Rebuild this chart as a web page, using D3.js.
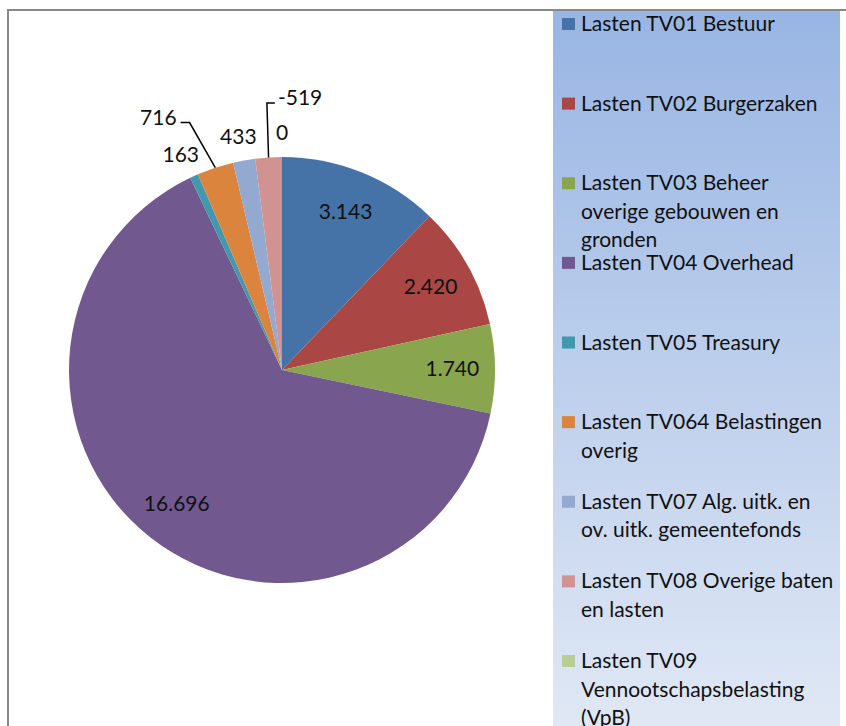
<!DOCTYPE html>
<html lang="nl">
<head>
<meta charset="UTF-8">
<title>Lasten per taakveld</title>
<script src="https://d3js.org/d3.v7.min.js"></script>
<style>
  body, html { margin: 0; padding: 0; overflow: hidden; background: #fff; }
  svg text { font-family: Lato, "Open Sans", sans-serif; fill: #111; }
  .data-label { font-size: 21px; }
  .legend-label { font-size: 21px; }
</style>
</head>
<body>
<svg id="chart" width="846" height="726"></svg>
<script>
  // chart data
  const categories = [
    "Lasten TV01 Bestuur",
    "Lasten TV02 Burgerzaken",
    "Lasten TV03 Beheer\noverige gebouwen en\ngronden",
    "Lasten TV04 Overhead",
    "Lasten TV05 Treasury",
    "Lasten TV064 Belastingen\noverig",
    "Lasten TV07 Alg. uitk. en\nov. uitk. gemeentefonds",
    "Lasten TV08 Overige baten\nen lasten",
    "Lasten TV09\nVennootschapsbelasting\n(VpB)"
  ];
  const values = [3143, 2420, 1740, 16696, 163, 716, 433, -519, 0];
  const colors = ["#4572A7", "#AA4643", "#89A54E", "#71588F", "#4198AF",
                  "#DB843D", "#93A9CF", "#D19392", "#B9CD96"];

  // labels that were dragged away from the pie by hand, with a leader line
  const leaderLabels = {
    5: { angle: 333.9, dist: 1.32 },
    7: { angle: 3.8, dist: 1.28 }
  };

  const svg = d3.select("#chart");
  const W = 846, H = 726;
  const cx = 282, cy = 370, radius = 213;

  const nl = d3.formatLocale({ decimal: ",", thousands: ".", grouping: [3], currency: ["€", ""], minus: "-" });
  const fmt = nl.format(",d");

  // legend panel background
  const defs = svg.append("defs");
  const grad = defs.append("linearGradient")
    .attr("id", "legendBg")
    .attr("x1", 0).attr("y1", 0).attr("x2", 0).attr("y2", 1);
  grad.append("stop").attr("offset", "0%").attr("stop-color", "#98B5E3");
  grad.append("stop").attr("offset", "100%").attr("stop-color", "#E0E8F5");

  svg.append("rect")
    .attr("x", 553).attr("y", 11)
    .attr("width", 287).attr("height", H - 11)
    .attr("fill", "url(#legendBg)");

  // chart frame (top and left edges visible)
  svg.append("line").attr("x1", 7).attr("x2", W).attr("y1", 10).attr("y2", 10)
    .attr("stroke", "#888").attr("stroke-width", 2);
  svg.append("line").attr("x1", 8).attr("x2", 8).attr("y1", 10).attr("y2", H)
    .attr("stroke", "#888").attr("stroke-width", 2);

  // pie
  const data = values.map((v, i) => ({ value: v, index: i }));
  const pie = d3.pie().sort(null).value(d => Math.abs(d.value));
  const arcs = pie(data);
  const arc = d3.arc().innerRadius(0).outerRadius(radius);
  const labelArc = d3.arc().innerRadius(radius * 0.8).outerRadius(radius * 0.8);

  const g = svg.append("g").attr("transform", `translate(${cx},${cy})`);

  g.selectAll("path.slice")
    .data(arcs)
    .join("path")
    .attr("class", "slice")
    .attr("d", arc)
    .attr("fill", d => colors[d.data.index]);

  const inside = arcs.filter(d => d.endAngle - d.startAngle > 0.3);
  const outside = arcs.filter(d => d.endAngle - d.startAngle <= 0.3);

  g.selectAll("text.inside")
    .data(inside)
    .join("text")
    .attr("class", "data-label inside")
    .attr("x", d => labelArc.centroid(d)[0])
    .attr("y", d => labelArc.centroid(d)[1])
    .attr("dy", "0.35em")
    .attr("text-anchor", "middle")
    .text(d => fmt(d.data.value));

  // outside labels
  const outR = radius + 14;
  outside.forEach(d => {
    const i = d.data.index;
    const mid = (d.startAngle + d.endAngle) / 2;
    const txt = g.append("text")
      .attr("class", "data-label")
      .attr("text-anchor", "middle")
      .attr("dy", "0.35em")
      .text(fmt(d.data.value));
    const bb = txt.node().getBBox();
    const w = bb.width, h = 20;

    if (leaderLabels[i]) {
      const L = leaderLabels[i];
      const a = L.angle * Math.PI / 180;
      const lx = Math.sin(a) * radius * L.dist;
      const ly = -Math.cos(a) * radius * L.dist;
      txt.attr("x", lx).attr("y", ly);
      const ex = Math.sin(mid) * radius, ey = -Math.cos(mid) * radius;
      const left = lx < ex;
      const sx = left ? lx + w / 2 + 4 : lx - w / 2 - 3;
      const kx = left ? sx + 9 : sx - 8;
      const sy = ly + 5;
      g.append("path")
        .attr("d", d3.line()([[sx, sy], [kx, sy], [ex, ey]]))
        .attr("fill", "none")
        .attr("stroke", "#000")
        .attr("stroke-width", 1.5);
    } else {
      const px = Math.sin(mid) * outR, py = -Math.cos(mid) * outR;
      txt.attr("x", px + Math.sin(mid) * w / 2)
         .attr("y", py - Math.cos(mid) * h / 2);
    }
  });

  // legend
  const yLegend = d3.scaleLinear().domain([0, categories.length - 1]).range([31, 668]);
  const lineH = 28.5;

  const items = svg.selectAll("g.legend-item")
    .data(categories)
    .join("g")
    .attr("class", "legend-item")
    .attr("transform", (d, i) => `translate(0,${yLegend(i)})`);

  items.append("rect")
    .attr("x", 562).attr("y", -13)
    .attr("width", 13).attr("height", 12)
    .attr("fill", (d, i) => colors[i]);

  items.append("text")
    .attr("class", "legend-label")
    .attr("x", 581)
    .selectAll("tspan")
    .data(d => d.split("\n"))
    .join("tspan")
    .attr("x", 581)
    .attr("y", (d, j) => j * lineH)
    .text(d => d);
</script>
</body>
</html>
